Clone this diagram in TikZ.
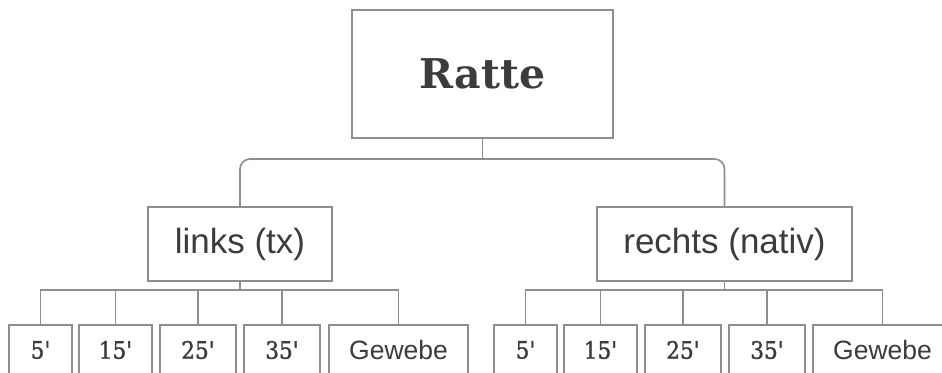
\documentclass[tikz,border=0pt]{standalone}
\usepackage{fontspec}
\setmainfont{Liberation Sans}
\newfontfamily\slabbold{DejaVu Serif}
\newfontfamily\slabnum[FakeBold=1.2]{DejaVu Serif Condensed}
\definecolor{edge}{HTML}{8E8E8E}
\definecolor{ink}{HTML}{3C3C3C}
\tikzset{
  box/.style={draw=edge, line width=1.6pt, fill=white, rectangle, inner sep=0pt,
              text=ink, anchor=center},
  rootbox/.style={box, minimum width=261pt, minimum height=128pt,
                  font=\slabbold\bfseries\fontsize{41}{41}\selectfont},
  sidebox/.style={box, minimum height=74pt, font=\fontsize{35}{35}\selectfont},
  leafbox/.style={box, minimum height=50pt, font=\fontsize{26.5}{26.5}\selectfont},
  numleaf/.style={leafbox, font=\slabnum\fontsize{24}{24}\selectfont},
  wire/.style={draw=edge, line width=1.6pt},
}
\begin{document}
\begin{tikzpicture}[x=1pt, y=-1pt]
  \useasboundingbox (0,0) rectangle (942,372);
  \clip (0,0) rectangle (942,372);

  % root and the two sides
  \node[rootbox] (root) at (482.5,74) {Ratte};
  \node[sidebox, minimum width=184pt] (left)  at (240,244)   {links (tx)};
  \node[sidebox, minimum width=255pt] (right) at (724.5,244) {rechts (nativ)};

  % leaves of the left side
  \node[numleaf, minimum width=63pt]  (l1) at (40.5,350)  {5'};
  \node[numleaf, minimum width=73pt]  (l2) at (115.5,350) {15'};
  \node[numleaf, minimum width=76pt]  (l3) at (198,350)   {25'};
  \node[numleaf, minimum width=76pt]  (l4) at (282,350)   {35'};
  \node[leafbox, minimum width=139pt] (l5) at (398.5,350) {Gewebe};

  % leaves of the right side
  \node[numleaf, minimum width=63pt]  (r1) at (525.5,350) {5'};
  \node[numleaf, minimum width=73pt]  (r2) at (600.5,350) {15'};
  \node[numleaf, minimum width=76pt]  (r3) at (683,350)   {25'};
  \node[numleaf, minimum width=76pt]  (r4) at (767,350)   {35'};
  \node[leafbox, minimum width=139pt] (r5) at (882.5,350) {Gewebe};

  % bus heights
  \coordinate (topbus) at (0,159);
  \coordinate (lowbus) at (0,290);

  % root to the sides
  \draw[wire] (root.south) -- (root.south |- topbus);
  \draw[wire, rounded corners=10pt]
    (left.north) -- (left.north |- topbus) -- (right.north |- topbus) -- (right.north);

  % sides to their leaves
  \foreach \p/\a/\b in {left/l1/l5, right/r1/r5}{
    \draw[wire] (\p.south) -- (\p.south |- lowbus);
    \draw[wire] (\a.north) -- (\a.north |- lowbus) -- (\b.north |- lowbus) -- (\b.north);
  }
  \foreach \n in {l2,l3,l4,r2,r3,r4}{
    \draw[wire] (\n.north) -- (\n.north |- lowbus);
  }
\end{tikzpicture}
\end{document}
